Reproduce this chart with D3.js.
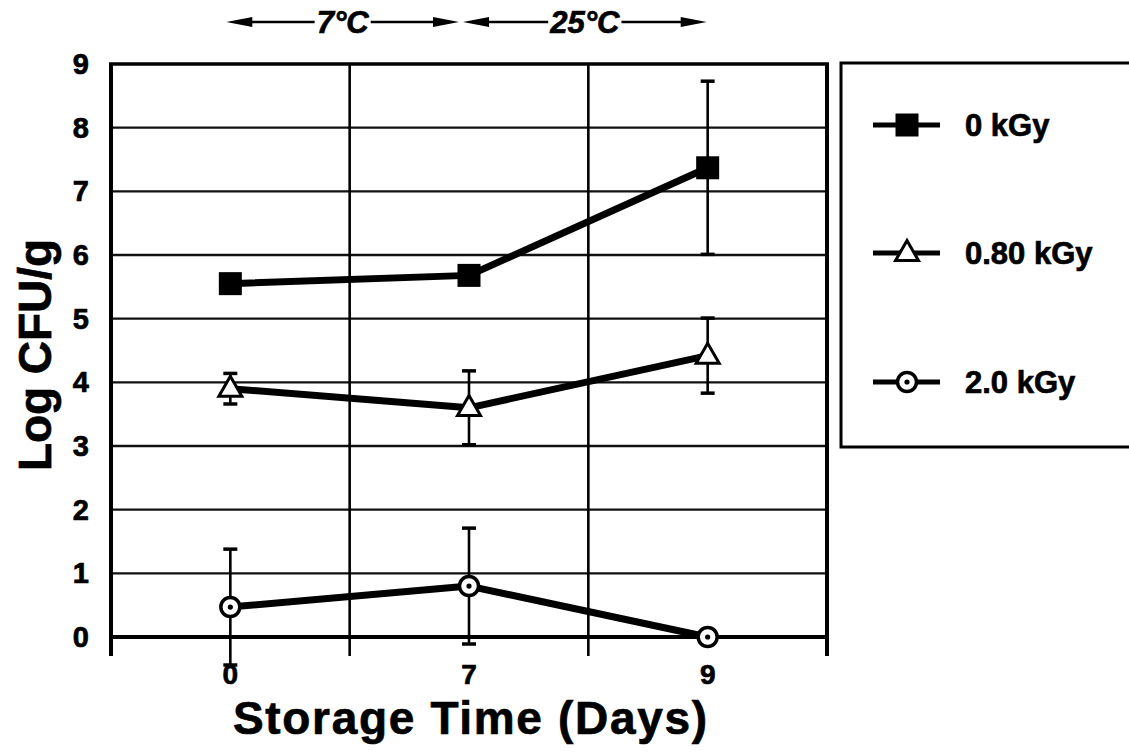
<!DOCTYPE html>
<html>
<head>
<meta charset="utf-8">
<script src="https://cdn.jsdelivr.net/npm/d3@7"></script>
<style>
  html, body { margin: 0; padding: 0; background: #fff; }
  svg { display: block; }
  text { font-family: "Liberation Sans", Arial, Helvetica, sans-serif; font-weight: bold; fill: #000;
         stroke: #000; stroke-width: 0.7px; }
</style>
</head>
<body>
<svg id="chart" width="1129" height="755"></svg>
<script>
// Storage days (categories) and tick labels
const days = ["0", "7", "9"];
const yTicks = [0, 1, 2, 3, 4, 5, 6, 7, 8, 9];

// Log CFU/g means and standard deviations per irradiation dose
const dose0Mean = [5.55, 5.68, 7.37];
const dose0Err = [0, 0, 1.36];
const dose080Mean = [3.9, 3.6, 4.42];
const dose080Err = [0.24, 0.58, 0.59];
const dose20Mean = [0.47, 0.8, 0.0];
const dose20Err = [0.91, 0.91, 0];

const seriesNames = ["0 kGy", "0.80 kGy", "2.0 kGy"];
const seriesMarkers = ["square", "triangle", "circle"];

// Storage temperature phase labels
const phaseLabels = ["7°C", "25°C"];

const series = [
  { name: seriesNames[0], marker: seriesMarkers[0], mean: dose0Mean, err: dose0Err },
  { name: seriesNames[1], marker: seriesMarkers[1], mean: dose080Mean, err: dose080Err },
  { name: seriesNames[2], marker: seriesMarkers[2], mean: dose20Mean, err: dose20Err }
];

const svg = d3.select("#chart");
const plot = { left: 111, right: 827, top: 64, bottom: 637 };

const x = d3.scaleBand().domain(days).range([plot.left, plot.right]);
const xc = d => x(d) + x.bandwidth() / 2;
const y = d3.scaleLinear().domain([0, 9]).range([plot.bottom, plot.top]);

// Horizontal gridlines
svg.append("g")
  .selectAll("line")
  .data(yTicks.filter(t => t > 0 && t < 9))
  .join("line")
  .attr("x1", plot.left).attr("x2", plot.right)
  .attr("y1", d => y(d)).attr("y2", d => y(d))
  .attr("stroke", "#111").attr("stroke-width", 2.4);

// Band boundaries: vertical gridlines that also serve as x ticks below the axis
const bounds = days.map(d => x(d)).concat([plot.right]);
svg.append("g")
  .selectAll("line")
  .data(bounds)
  .join("line")
  .attr("x1", d => d).attr("x2", d => d)
  .attr("y1", plot.top).attr("y2", plot.bottom + 19)
  .attr("stroke", "#000")
  .attr("stroke-width", (d, i) => (i === 0 || i === bounds.length - 1) ? 4 : 2.6);

// Top frame and x axis baseline
svg.append("line")
  .attr("x1", plot.left - 2).attr("x2", plot.right + 2)
  .attr("y1", y(9)).attr("y2", y(9))
  .attr("stroke", "#000").attr("stroke-width", 3.5);
svg.append("line")
  .attr("x1", plot.left - 2).attr("x2", plot.right + 2)
  .attr("y1", y(0)).attr("y2", y(0))
  .attr("stroke", "#000").attr("stroke-width", 4);

// Y tick labels
svg.append("g")
  .selectAll("text")
  .data(yTicks)
  .join("text")
  .attr("x", 89).attr("y", d => y(d) + 10)
  .attr("text-anchor", "end")
  .attr("font-size", 29)
  .text(d => d);

// X tick labels
svg.append("g")
  .selectAll("text")
  .data(days)
  .join("text")
  .attr("x", d => xc(d)).attr("y", 684)
  .attr("text-anchor", "middle")
  .attr("font-size", 28)
  .text(d => d);

// Axis titles
svg.append("text")
  .attr("x", 470).attr("y", 734)
  .attr("text-anchor", "middle")
  .attr("font-size", 46)
  .attr("textLength", 474)
  .text("Storage Time (Days)");
svg.append("text")
  .attr("transform", `translate(51, ${355}) rotate(-90)`)
  .attr("text-anchor", "middle")
  .attr("font-size", 46)
  .attr("textLength", 232)
  .text("Log CFU/g");

// Error bars
const capW = 7;
const errG = svg.append("g");
series.forEach(s => {
  s.mean.forEach((m, i) => {
    const e = s.err[i];
    if (!e) return;
    const cx = xc(days[i]);
    const g = errG.append("g").attr("stroke", "#000").attr("stroke-width", 2.6);
    g.append("line").attr("x1", cx).attr("x2", cx).attr("y1", y(m + e)).attr("y2", y(m - e));
    g.append("line").attr("x1", cx - capW).attr("x2", cx + capW).attr("y1", y(m + e)).attr("y2", y(m + e)).attr("stroke-width", 3.5);
    g.append("line").attr("x1", cx - capW).attr("x2", cx + capW).attr("y1", y(m - e)).attr("y2", y(m - e)).attr("stroke-width", 3.5);
  });
});

// Series lines
const line = d3.line().x((d, i) => xc(days[i])).y(d => y(d));
svg.append("g")
  .selectAll("path")
  .data(series)
  .join("path")
  .attr("d", s => line(s.mean))
  .attr("fill", "none")
  .attr("stroke", "#000")
  .attr("stroke-width", 7)
  .attr("stroke-linejoin", "round");

// Marker drawing
function drawMarker(g, type, cx, cy) {
  if (type === "square") {
    g.append("rect").attr("x", cx - 11.5).attr("y", cy - 11.5).attr("width", 23).attr("height", 23)
      .attr("fill", "#000");
  } else if (type === "triangle") {
    const h = 20, w = 23;
    g.append("path")
      .attr("d", `M${cx},${cy - h * 0.62} L${cx + w / 2},${cy + h * 0.38} L${cx - w / 2},${cy + h * 0.38} Z`)
      .attr("fill", "#fff").attr("stroke", "#000").attr("stroke-width", 3).attr("stroke-linejoin", "miter");
  } else {
    g.append("circle").attr("cx", cx).attr("cy", cy).attr("r", 9.5)
      .attr("fill", "#fff").attr("stroke", "#000").attr("stroke-width", 3.5);
    g.append("circle").attr("cx", cx).attr("cy", cy).attr("r", 2.6).attr("fill", "#000");
  }
}

const markG = svg.append("g");
series.forEach(s => {
  s.mean.forEach((m, i) => drawMarker(markG, s.marker, xc(days[i]), y(m)));
});

// Legend
const legend = svg.append("g");
legend.append("rect")
  .attr("x", 841).attr("y", 63).attr("width", 300).attr("height", 384)
  .attr("fill", "none").attr("stroke", "#000").attr("stroke-width", 3);
const legendY = [125, 253, 382];
series.forEach((s, i) => {
  const ly = legendY[i];
  legend.append("line").attr("x1", 873).attr("x2", 940).attr("y1", ly).attr("y2", ly)
    .attr("stroke", "#000").attr("stroke-width", 5);
  drawMarker(legend, s.marker, 907, ly);
  legend.append("text").attr("x", 965).attr("y", ly + 11)
    .attr("font-size", 31).text(s.name);
});

// Temperature phase arrows above the plot
const phases = [
  { xs: xc(days[0]) - 4, xe: xc(days[1]) - 10, label: phaseLabels[0] },
  { xs: xc(days[1]) - 6, xe: xc(days[2]) - 1, label: phaseLabels[1] }
];
const arrowY = 22;
const arrowG = svg.append("g");
phases.forEach(p => {
  const xs = p.xs, xe = p.xe;
  const mid = (xs + xe) / 2;
  const t = arrowG.append("text")
    .attr("x", mid).attr("y", arrowY + 11)
    .attr("text-anchor", "middle")
    .attr("font-size", 31).attr("font-style", "italic")
    .text(p.label);
  const tw = t.node().getComputedTextLength();
  const headL = 24, headH = 5;
  arrowG.append("line").attr("x1", xs + headL).attr("x2", mid - tw / 2 - 2)
    .attr("y1", arrowY).attr("y2", arrowY).attr("stroke", "#000").attr("stroke-width", 2.4);
  arrowG.append("line").attr("x1", mid + tw / 2 + 2).attr("x2", xe - headL)
    .attr("y1", arrowY).attr("y2", arrowY).attr("stroke", "#000").attr("stroke-width", 2.4);
  arrowG.append("path")
    .attr("d", `M${xs},${arrowY} L${xs + headL + 2},${arrowY - headH} L${xs + headL + 2},${arrowY + headH} Z`)
    .attr("fill", "#000");
  arrowG.append("path")
    .attr("d", `M${xe},${arrowY} L${xe - headL - 2},${arrowY - headH} L${xe - headL - 2},${arrowY + headH} Z`)
    .attr("fill", "#000");
});
</script>
</body>
</html>
